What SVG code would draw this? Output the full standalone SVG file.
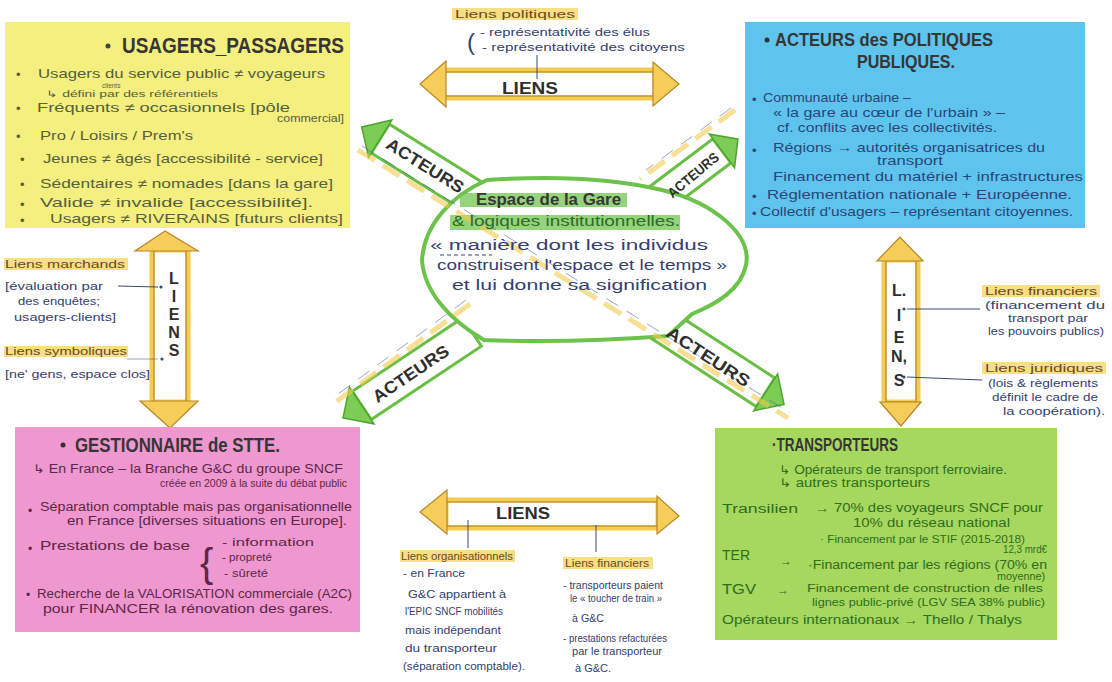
<svg xmlns="http://www.w3.org/2000/svg" width="1112" height="682" viewBox="0 0 1112 682">
<style>
text{font-family:"Liberation Sans",Arial,sans-serif}
.t{font-weight:700;fill:#363636}
.hw{font-size:13px}
.s11{font-size:11px}
.s10{font-size:10px}
.yb{fill:#56603c}
.bb{fill:#2c4478}
.pb{fill:#5c2748}
.gb{fill:#2f6e1c}
.ink{fill:#34406e}
.lab{font-size:11px;fill:#6a4a20}
.hl{fill:#f6d35c;opacity:.75}
.ghl{fill:#72c64e;opacity:.75}
.aw{fill:#fff;stroke:#69bf43;stroke-width:3}
.ah{fill:#7ccc55;stroke:#4fa62e;stroke-width:1.5}
.yw{fill:#fff;stroke:#f4cd4e;stroke-width:5}
.yo{fill:none;stroke:#b8862a;stroke-width:1.2}
.yh{fill:#f6cd58;stroke:#b8862a;stroke-width:1.2}
.lt{font-weight:700;fill:#2e2e2e;font-size:16px;text-anchor:middle}
.at{font-weight:700;fill:#2e2e2e;text-anchor:middle;dominant-baseline:central}
.cl{stroke:#3a4a70;stroke-width:1;fill:none}
.dash{stroke:#f2c94c;stroke-width:5;stroke-dasharray:20 9;fill:none;opacity:.6}
.pen{stroke:#4b5d8f;stroke-width:.8;stroke-dasharray:14 10;fill:none;opacity:.7}
</style>

<rect width="1112" height="682" fill="#ffffff"/>

<g id="connectors">
  <g id="arrow-acteurs-tl" transform="translate(421,164) rotate(32)">
    <rect class="aw" x="-48" y="-17" width="118" height="34"/>
    <polygon class="ah" points="-70,0 -48,-22 -48,22"/>
  </g>
  <g id="arrow-acteurs-tr" transform="translate(690,175) rotate(-37)">
    <rect class="aw" x="-60" y="-15" width="100" height="30"/>
    <polygon class="ah" points="60,0 40,-21 40,21"/>
  </g>
  <g id="arrow-acteurs-bl" transform="translate(407.5,375) rotate(-33.7)">
    <rect class="aw" x="-55" y="-17" width="132.5" height="34"/>
    <polygon class="ah" points="-77.5,0 -55,-22 -55,22"/>
  </g>
  <g id="arrow-acteurs-br" transform="translate(722,364) rotate(33)">
    <rect class="aw" x="-74" y="-17" width="126" height="34"/>
    <polygon class="ah" points="74,0 52,-22 52,22"/>
  </g>

  <g id="liens-top">
    <rect class="yw" x="443" y="70" width="212" height="28"/>
    <rect class="yo" x="443" y="72" width="212" height="24"/>
    <polygon class="yh" points="420,84 446,61 446,107"/>
    <polygon class="yh" points="679,84 653,62 653,106"/>
  </g>
  <g id="liens-bottom">
    <rect class="yw" x="446" y="500" width="212" height="28"/>
    <rect class="yo" x="446" y="502" width="212" height="24"/>
    <polygon class="yh" points="420,512 447,490 447,534"/>
    <polygon class="yh" points="679,516 657,496 657,534"/>
  </g>
  <g id="liens-left">
    <rect class="yw" x="152" y="250" width="36" height="152"/>
    <rect class="yo" x="154" y="250" width="32" height="152"/>
    <polygon class="yh" points="165,231 135,251 198,251"/>
    <polygon class="yh" points="170,428 140,401 198,401"/>
  </g>
  <g id="liens-right">
    <rect class="yw" x="884" y="260" width="34" height="142"/>
    <rect class="yo" x="886" y="260" width="30" height="142"/>
    <polygon class="yh" points="900,237 877,261 923,261"/>
    <polygon class="yh" points="901,426 880,402 921,402"/>
  </g>

  <line class="cl" x1="537" y1="55" x2="537" y2="79"/>
  <line class="cl" x1="468" y1="520" x2="468" y2="548"/>
  <line class="cl" x1="596" y1="525" x2="596" y2="552"/>
  <line class="cl" x1="118" y1="286" x2="158" y2="287"/>
  <circle cx="161" cy="287" r="1.6" fill="#3a4a70"/>
  <line class="cl" x1="127" y1="359" x2="158" y2="359" opacity=".5"/>
  <circle cx="162" cy="359" r="1.6" fill="#3a4a70"/>
  <line class="cl" x1="907" y1="309" x2="980" y2="309"/>
  <circle cx="904" cy="309" r="1.6" fill="#3a4a70"/>
  <line class="cl" x1="907" y1="377" x2="982" y2="380"/>
  <circle cx="904" cy="377" r="1.6" fill="#3a4a70"/>
</g>

<g id="node-usagers">
  <rect x="5" y="22" width="345" height="206" fill="#f4ef7e"/>
  <circle cx="108" cy="46" r="2.5" fill="#3d4a3a"/>
  <text class="t" x="122" y="53" font-size="22" textLength="222" lengthAdjust="spacingAndGlyphs" fill="#3d4a3a">USAGERS_PASSAGERS</text>
  <g class="hw yb">
    <text x="16" y="79">•</text>
    <text x="38" y="78" textLength="287" lengthAdjust="spacingAndGlyphs">Usagers du service public ≠ voyageurs</text>
    <text x="102" y="87.5" font-size="6.5">clients</text>
    <text x="46" y="97" font-size="9" textLength="172" lengthAdjust="spacingAndGlyphs">↳ défini par des référentiels</text>
    <text x="16" y="113">•</text>
    <text x="37" y="112" textLength="253" lengthAdjust="spacingAndGlyphs">Fréquents ≠ occasionnels [pôle</text>
    <text x="277" y="122" font-size="10" textLength="67" lengthAdjust="spacingAndGlyphs">commercial]</text>
    <text x="16" y="141">•</text>
    <text x="40" y="140" textLength="153" lengthAdjust="spacingAndGlyphs">Pro / Loisirs / Prem's</text>
    <text x="20" y="164">•</text>
    <text x="43" y="163" textLength="280" lengthAdjust="spacingAndGlyphs">Jeunes ≠ âgés [accessibilité - service]</text>
    <text x="20" y="189">•</text>
    <text x="40" y="188" textLength="293" lengthAdjust="spacingAndGlyphs">Sédentaires ≠ nomades [dans la gare]</text>
    <text x="20" y="209">•</text>
    <text x="40" y="207" textLength="273" lengthAdjust="spacingAndGlyphs">Valide ≠ invalide [accessibilité].</text>
    <text x="20" y="225">•</text>
    <text x="50" y="223" textLength="293" lengthAdjust="spacingAndGlyphs">Usagers ≠ RIVERAINS [futurs clients]</text>
  </g>
</g>

<g id="node-acteurs-politiques">
  <rect x="745" y="22" width="340" height="206" fill="#5ec4ee"/>
  <circle cx="767" cy="40" r="2.5" fill="#333"/>
  <text class="t" x="775" y="46" font-size="18" textLength="218" lengthAdjust="spacingAndGlyphs">ACTEURS des POLITIQUES</text>
  <text class="t" x="857" y="68" font-size="18" textLength="98" lengthAdjust="spacingAndGlyphs">PUBLIQUES.</text>
  <g class="hw bb">
    <text x="752" y="104">•</text>
    <text x="763" y="102" textLength="148" lengthAdjust="spacingAndGlyphs">Communauté urbaine –</text>
    <text x="773" y="117" textLength="232" lengthAdjust="spacingAndGlyphs">« la gare au cœur de l'urbain » –</text>
    <text x="777" y="132" textLength="220" lengthAdjust="spacingAndGlyphs">cf. conflits avec les collectivités.</text>
    <text x="752" y="155">•</text>
    <text x="773" y="152" textLength="272" lengthAdjust="spacingAndGlyphs">Régions → autorités organisatrices du</text>
    <text x="877" y="165" font-size="12" textLength="66" lengthAdjust="spacingAndGlyphs">transport</text>
    <text x="773" y="181" textLength="310" lengthAdjust="spacingAndGlyphs">Financement du matériel + infrastructures</text>
    <text x="752" y="201">•</text>
    <text x="767" y="199" textLength="305" lengthAdjust="spacingAndGlyphs">Réglementation nationale + Européenne.</text>
    <text x="752" y="218">•</text>
    <text x="760" y="216" textLength="313" lengthAdjust="spacingAndGlyphs">Collectif d'usagers – représentant citoyennes.</text>
  </g>
</g>

<g id="node-gestionnaire">
  <rect x="15" y="427" width="345" height="205" fill="#ef97cf"/>
  <circle cx="63" cy="445" r="2.5" fill="#3a2a30"/>
  <text class="t" x="75" y="452" font-size="20" textLength="205" lengthAdjust="spacingAndGlyphs" fill="#3a2a30">GESTIONNAIRE de STTE.</text>
  <g class="pb" font-size="12">
    <text x="33" y="473" textLength="310" lengthAdjust="spacingAndGlyphs">↳ En France – la Branche G&amp;C du groupe SNCF</text>
    <text x="160" y="487" font-size="11" textLength="187" lengthAdjust="spacingAndGlyphs">créée en 2009 à la suite du débat public</text>
    <text x="28" y="515">•</text>
    <text x="40" y="511" textLength="312" lengthAdjust="spacingAndGlyphs">Séparation comptable mais pas organisationnelle</text>
    <text x="67" y="525" textLength="280" lengthAdjust="spacingAndGlyphs">en France [diverses situations en Europe].</text>
    <text x="28" y="553">•</text>
    <text x="40" y="550" textLength="150" lengthAdjust="spacingAndGlyphs">Prestations de base</text>
    <text x="200" y="577" font-size="40" font-weight="100">{</text>
    <text x="222" y="546" font-size="11" textLength="92" lengthAdjust="spacingAndGlyphs">- information</text>
    <text x="222" y="561" font-size="11" textLength="50" lengthAdjust="spacingAndGlyphs">- propreté</text>
    <text x="224" y="577" font-size="11" textLength="44" lengthAdjust="spacingAndGlyphs">- sûreté</text>
    <text x="26" y="599">•</text>
    <text x="37" y="598" textLength="315" lengthAdjust="spacingAndGlyphs">Recherche de la VALORISATION commerciale (A2C)</text>
    <text x="43" y="613" textLength="290" lengthAdjust="spacingAndGlyphs">pour FINANCER la rénovation des gares.</text>
  </g>
</g>

<g id="node-transporteurs">
  <rect x="715" y="428" width="342" height="212" fill="#a6d75e"/>
  <text class="t" x="772" y="451" font-size="18" textLength="126" lengthAdjust="spacingAndGlyphs">·TRANSPORTEURS</text>
  <g class="gb" font-size="12">
    <text x="779" y="474" textLength="228" lengthAdjust="spacingAndGlyphs">↳ Opérateurs de transport ferroviaire.</text>
    <text x="779" y="487" textLength="151" lengthAdjust="spacingAndGlyphs">↳ autres transporteurs</text>
    <text x="722" y="513" textLength="76" lengthAdjust="spacingAndGlyphs">Transilien</text>
    <text x="815" y="512" textLength="228" lengthAdjust="spacingAndGlyphs">→ 70% des voyageurs SNCF pour</text>
    <text x="853" y="527" textLength="157" lengthAdjust="spacingAndGlyphs">10% du réseau national</text>
    <text x="820" y="543" font-size="11" textLength="205" lengthAdjust="spacingAndGlyphs">· Financement par le STIF (2015-2018)</text>
    <text x="1003" y="553" font-size="10" textLength="44" lengthAdjust="spacingAndGlyphs">12,3 mrd€</text>
    <text x="722" y="560" font-size="14" textLength="28" lengthAdjust="spacingAndGlyphs">TER</text>
    <text x="780" y="565">→</text>
    <text x="808" y="569" textLength="239" lengthAdjust="spacingAndGlyphs">·Financement par les régions (70% en</text>
    <text x="997" y="580" font-size="11" textLength="48" lengthAdjust="spacingAndGlyphs">moyenne)</text>
    <text x="722" y="594" font-size="14" textLength="34" lengthAdjust="spacingAndGlyphs">TGV</text>
    <text x="777" y="594">→</text>
    <text x="807" y="592" font-size="11" textLength="236" lengthAdjust="spacingAndGlyphs">Financement de construction de nlles</text>
    <text x="812" y="606" font-size="11" textLength="233" lengthAdjust="spacingAndGlyphs">lignes public-privé (LGV SEA 38% public)</text>
    <text x="722" y="624" textLength="300" lengthAdjust="spacingAndGlyphs">Opérateurs internationaux → Thello / Thalys</text>
  </g>
</g>

<g id="node-espace-gare">
  <path d="M487,180 C560,175 620,180 662,190 C715,203 752,235 746,265 C741,290 716,304 692,314 L668,336 C600,341 540,342 484,340 C450,320 424,292 422,260 C424,226 450,196 487,180 Z" fill="#ffffff" stroke="#6cc24a" stroke-width="4"/>
  <rect class="ghl" x="460" y="193" width="167" height="14"/>
  <rect class="ghl" x="450" y="215" width="230" height="15"/>
</g>

<g id="highlights">
  <line class="dash" x1="358" y1="150" x2="788" y2="418"/>
  <line class="pen" x1="362" y1="146" x2="790" y2="413"/>
  <line class="dash" x1="735" y1="110" x2="640" y2="179"/>
  <line class="dash" x1="470" y1="304" x2="333" y2="404"/>
  <line class="pen" x1="731" y1="108" x2="646" y2="170"/>
  <line class="pen" x1="466" y1="300" x2="338" y2="394"/>
</g>

<g id="node-espace-gare-text">
  <text class="t" x="476" y="205" font-size="16" textLength="145" lengthAdjust="spacingAndGlyphs">Espace de la Gare</text>
  <text x="452" y="226" font-size="14" fill="#2f6a2a" textLength="228" lengthAdjust="spacingAndGlyphs">&amp; logiques institutionnelles.</text>
  <g class="ink" font-size="14">
    <text x="430" y="250" textLength="278" lengthAdjust="spacingAndGlyphs">« manière dont les individus</text>
    <line x1="440" y1="255" x2="492" y2="255" stroke="#34406e" stroke-width="1" stroke-dasharray="4 3"/>
    <text x="437" y="270" textLength="290" lengthAdjust="spacingAndGlyphs">construisent l'espace et le temps »</text>
    <text x="452" y="290" textLength="255" lengthAdjust="spacingAndGlyphs">et lui donne sa signification</text>
  </g>
</g>

<g id="labels-acteurs">
  <text class="at" font-size="17" transform="translate(425,166) rotate(32)" textLength="88" lengthAdjust="spacingAndGlyphs">ACTEURS</text>
  <text class="at" font-size="14" transform="translate(693,175) rotate(-40)" textLength="62" lengthAdjust="spacingAndGlyphs">ACTEURS</text>
  <text class="at" font-size="17" transform="translate(411,374) rotate(-34)" textLength="88" lengthAdjust="spacingAndGlyphs">ACTEURS</text>
  <text class="at" font-size="17" transform="translate(708,357) rotate(33)" textLength="96" lengthAdjust="spacingAndGlyphs">ACTEURS</text>
</g>

<g id="node-liens-politiques">
  <rect class="hl" x="452" y="8" width="126" height="12"/>
  <text class="lab" x="455" y="18" textLength="120" lengthAdjust="spacingAndGlyphs">Liens politiques</text>
  <text class="ink" x="467" y="50" font-size="24" font-weight="100">(</text>
  <text class="ink s11" x="480" y="36" textLength="170" lengthAdjust="spacingAndGlyphs">- représentativité des élus</text>
  <text class="ink s11" x="482" y="51" textLength="203" lengthAdjust="spacingAndGlyphs">- représentativité des citoyens</text>
  <text class="lt" x="530" y="94" font-size="17" textLength="56" lengthAdjust="spacingAndGlyphs">LIENS</text>
</g>

<g id="node-liens-gauche">
  <rect class="hl" x="4" y="258" width="124" height="12"/>
  <text class="lab" x="5" y="268" textLength="120" lengthAdjust="spacingAndGlyphs">Liens marchands</text>
  <g class="ink s11">
    <text x="5" y="290" textLength="98" lengthAdjust="spacingAndGlyphs">[évaluation par</text>
    <text x="18" y="305" textLength="82" lengthAdjust="spacingAndGlyphs">des enquêtes;</text>
    <text x="14" y="321" textLength="102" lengthAdjust="spacingAndGlyphs">usagers-clients]</text>
  </g>
  <rect class="hl" x="4" y="346" width="124" height="11"/>
  <text class="lab" x="5" y="355" textLength="122" lengthAdjust="spacingAndGlyphs">Liens symboliques</text>
  <text class="ink s11" x="5" y="378" textLength="145" lengthAdjust="spacingAndGlyphs">[ne' gens, espace clos]</text>
  <text class="lt" x="174" y="284">L</text>
  <text class="lt" x="174" y="302">I</text>
  <text class="lt" x="174" y="320">E</text>
  <text class="lt" x="174" y="338">N</text>
  <text class="lt" x="174" y="356">S</text>
</g>

<g id="node-liens-droite">
  <rect class="hl" x="982" y="285" width="118" height="12"/>
  <text class="lab" x="985" y="295" textLength="112" lengthAdjust="spacingAndGlyphs">Liens financiers</text>
  <g class="ink s10">
    <text x="985" y="309" textLength="120" lengthAdjust="spacingAndGlyphs">(financement du</text>
    <text x="1008" y="322" textLength="80" lengthAdjust="spacingAndGlyphs">transport par</text>
    <text x="988" y="335" textLength="116" lengthAdjust="spacingAndGlyphs">les pouvoirs publics)</text>
  </g>
  <rect class="hl" x="982" y="362" width="124" height="12"/>
  <text class="lab" x="985" y="372" textLength="118" lengthAdjust="spacingAndGlyphs">Liens juridiques</text>
  <g class="ink s10">
    <text x="988" y="387" textLength="110" lengthAdjust="spacingAndGlyphs">(lois &amp; règlements</text>
    <text x="992" y="401" textLength="106" lengthAdjust="spacingAndGlyphs">définit le cadre de</text>
    <text x="1003" y="415" textLength="102" lengthAdjust="spacingAndGlyphs">la coopération).</text>
  </g>
  <text class="lt" x="899" y="296">L.</text>
  <text class="lt" x="899" y="321">I</text>
  <text class="lt" x="899" y="343">E</text>
  <text class="lt" x="899" y="362">N,</text>
  <text class="lt" x="899" y="386">S</text>
</g>

<g id="node-liens-bas">
  <text class="lt" x="523" y="519" font-size="17" textLength="54" lengthAdjust="spacingAndGlyphs">LIENS</text>
  <rect class="hl" x="400" y="550" width="115" height="12"/>
  <text class="lab" x="401" y="560" textLength="112" lengthAdjust="spacingAndGlyphs">Liens organisationnels</text>
  <g class="ink s11">
    <text x="403" y="577" textLength="62" lengthAdjust="spacingAndGlyphs">- en France</text>
    <text x="408" y="598" textLength="98" lengthAdjust="spacingAndGlyphs">G&amp;C appartient à</text>
    <text x="405" y="615" textLength="98" lengthAdjust="spacingAndGlyphs">l'EPIC SNCF mobilités</text>
    <text x="405" y="634" textLength="96" lengthAdjust="spacingAndGlyphs">mais indépendant</text>
    <text x="405" y="652" textLength="92" lengthAdjust="spacingAndGlyphs">du transporteur</text>
    <text x="403" y="670" textLength="122" lengthAdjust="spacingAndGlyphs">(séparation comptable).</text>
  </g>
  <rect class="hl" x="563" y="557" width="90" height="12"/>
  <text class="lab" x="565" y="567" textLength="84" lengthAdjust="spacingAndGlyphs">Liens financiers</text>
  <g class="ink s11">
    <text x="563" y="589" textLength="100" lengthAdjust="spacingAndGlyphs">- transporteurs paient</text>
    <text x="570" y="602" textLength="92" lengthAdjust="spacingAndGlyphs">le « toucher de train »</text>
    <text x="572" y="622" textLength="32" lengthAdjust="spacingAndGlyphs">à G&amp;C</text>
    <text x="563" y="642" textLength="104" lengthAdjust="spacingAndGlyphs">- prestations refacturées</text>
    <text x="572" y="655" textLength="90" lengthAdjust="spacingAndGlyphs">par le transporteur</text>
    <text x="575" y="672" textLength="36" lengthAdjust="spacingAndGlyphs">à G&amp;C.</text>
  </g>
</g>
</svg>
